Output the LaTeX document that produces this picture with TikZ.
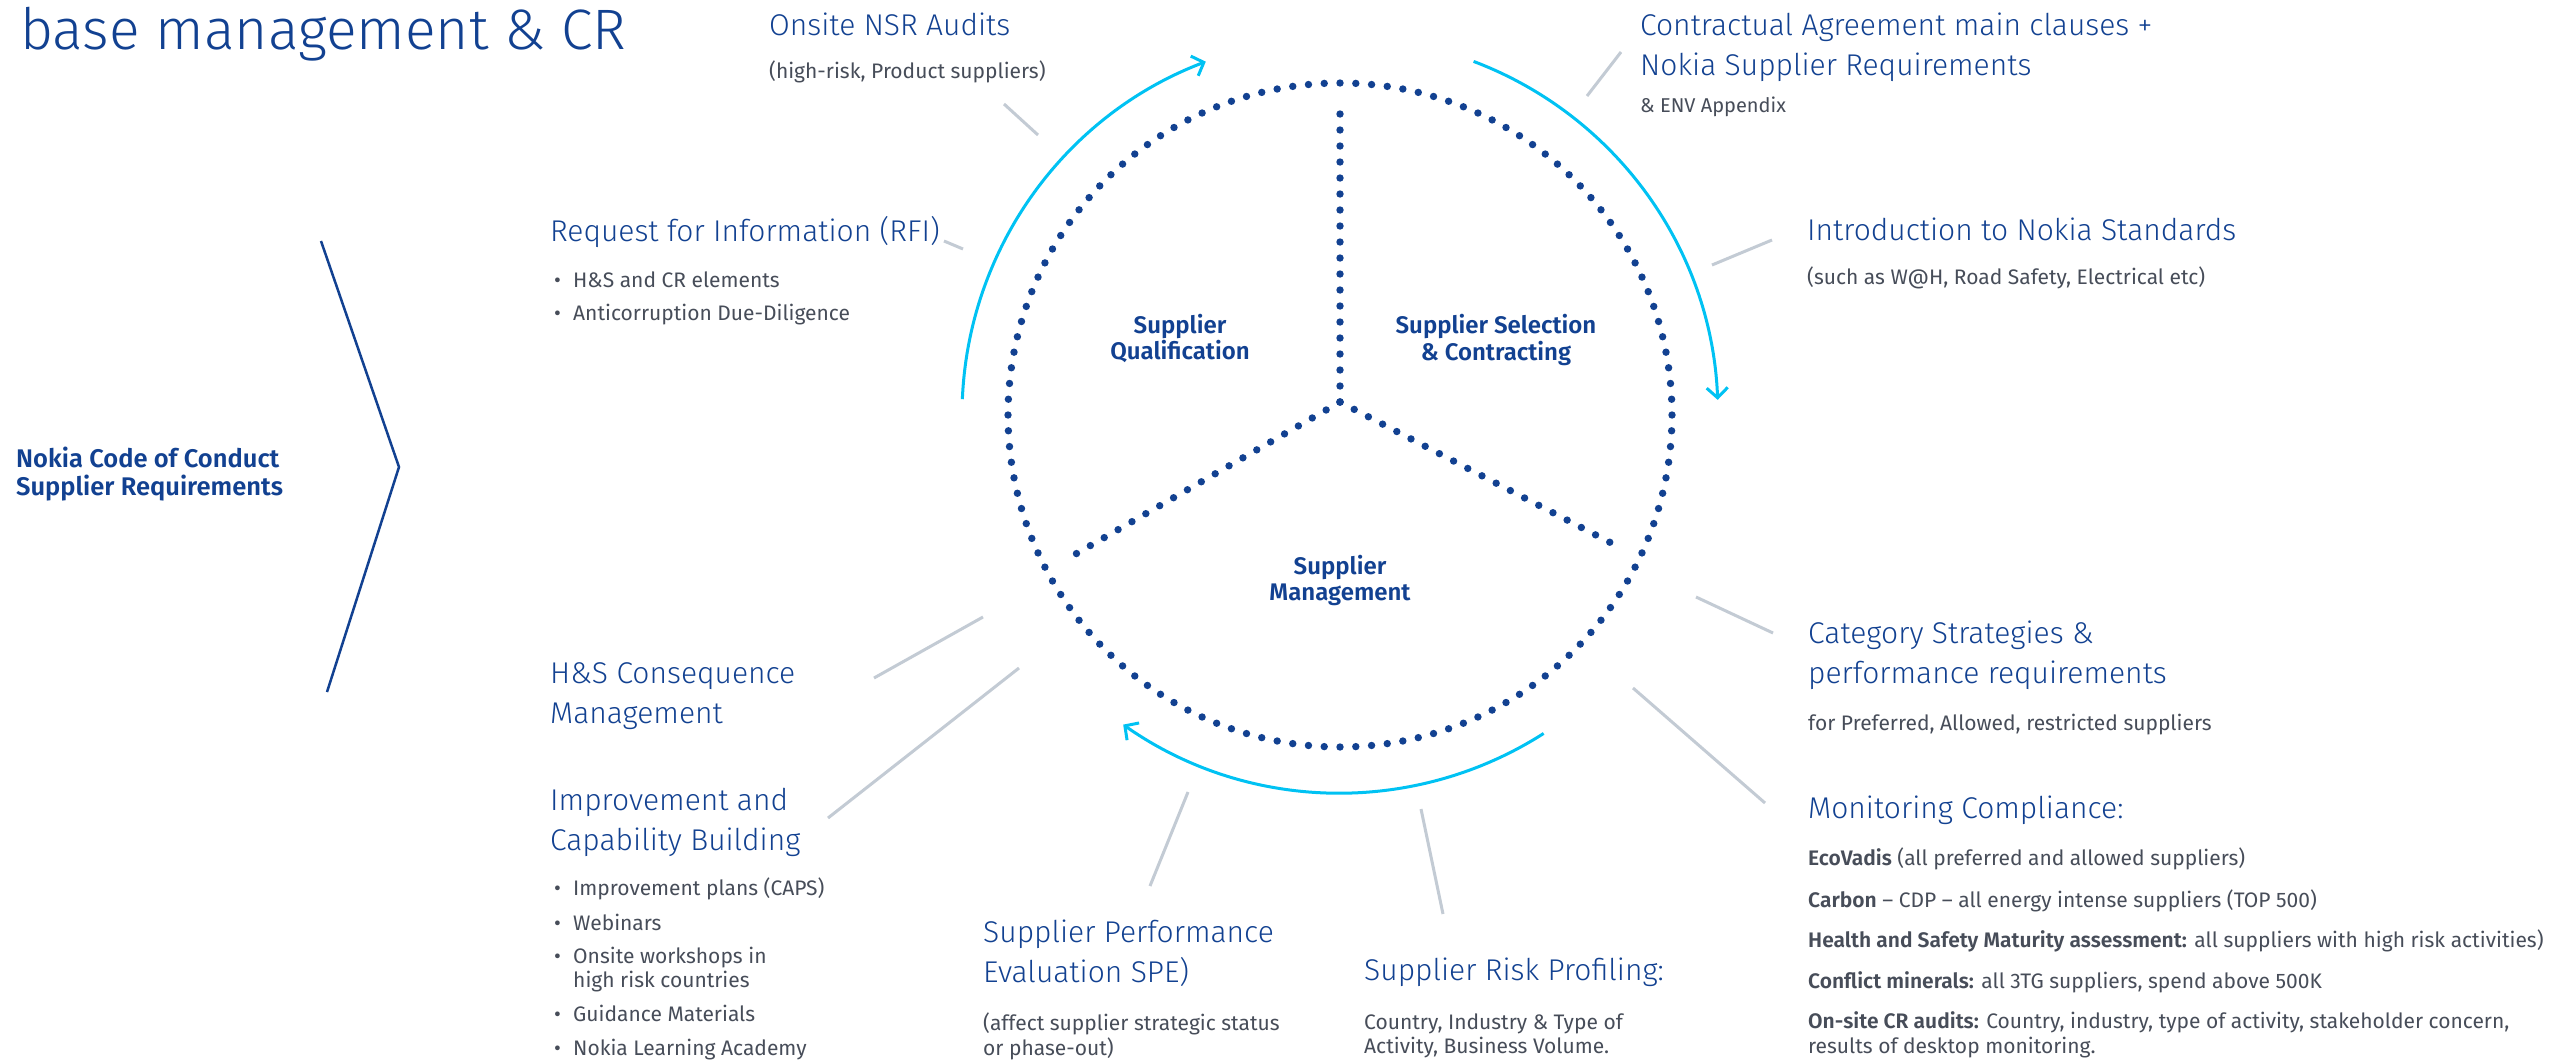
\documentclass[tikz,border=0pt]{standalone}
\usepackage{fontspec}
\usetikzlibrary{arrows.meta}
\setmainfont{Fira Sans}
\IfFontExistsTF{Fira Sans Light}{\newfontfamily\lightf{Fira Sans Light}}{\newfontfamily\lightf{Fira Sans}}
\IfFontExistsTF{Fira Sans SemiBold}{\newfontfamily\semibf{Fira Sans SemiBold}}{\newcommand\semibf{\bfseries}}
\definecolor{nblue}{HTML}{124191}
\definecolor{ncyan}{HTML}{00C2F3}
\definecolor{lgray}{HTML}{C3CBD4}
\definecolor{tgray}{HTML}{474D59}
\newcommand\bul{\makebox[19pt][l]{•}}
\tikzset{
  hd/.style={anchor=base west, inner sep=0pt, text=nblue, font=\lightf\fontsize{30}{36}\selectfont},
  sb/.style={anchor=base west, inner sep=0pt, text=tgray, font=\fontsize{21}{25}\selectfont},
  inl/.style={anchor=base, inner sep=0pt, text=nblue, font=\semibf\fontsize{24}{29}\selectfont},
  codeb/.style={anchor=base west, inner sep=0pt, text=nblue, font=\semibf\fontsize{25.5}{30}\selectfont},
  gline/.style={draw=lgray, line width=3pt},
  dotline/.style={draw=nblue, line width=7.4pt, line cap=round, dash pattern=on 0pt off 16pt},
  cyanarrow/.style={draw=ncyan, line width=3pt, -{Straight Barb[length=10pt,width=21pt]}}
}
\begin{document}
\begin{tikzpicture}[x=1pt,y=-1pt]
\fill[white] (0,0) rectangle (2570,1061);
\useasboundingbox (0,0) rectangle (2570,1061);

% title
\node[anchor=base west, inner sep=0pt, text=nblue, font=\lightf\fontsize{57}{68}\selectfont] (title) at (20,49) {base management \& CR};

% chevron and code of conduct
\coordinate (chtop) at (321,241);
\coordinate (chtip) at (399,467);
\coordinate (chbot) at (327,692);
\draw[nblue, line width=2.5pt, line join=miter] (chtop) -- (chtip) -- (chbot);
\node[codeb] (code1) at (16,467) {Nokia Code of Conduct};
\node[codeb] (code2) at (16,495) {Supplier Requirements};

% dotted circle
\coordinate (ctr) at (1340,415);
\foreach \i in {0,...,131}
  \fill[nblue] (ctr) ++({\i*2.727273}:332) circle[radius=3.7];

% dividers
\coordinate (J) at (1340,402);
\coordinate (Dtop) at (1340,100);
\coordinate (Dll) at (1067,559);
\coordinate (Dlr) at (1617,546);
\draw[dotline] (J) -- (Dtop);
\draw[dotline] (J) -- (Dll);
\draw[dotline] (J) -- (Dlr);

% cyan arrows
\draw[cyanarrow] (ctr) ++(-177.6:378) arc[start angle=-177.6, end angle=-110.8, radius=378];
\draw[cyanarrow] (ctr) ++(-69.3:378) arc[start angle=-69.3, end angle=-2.3, radius=378];
\draw[cyanarrow] (ctr) ++(57.4:378) arc[start angle=57.4, end angle=125, radius=378];

% inner labels
\node[inl] (q1) at (1180,333) {Supplier};
\node[inl] (q2) at (1180,359) {Qualification};
\node[inl] (s1) at (1496,333) {Supplier Selection};
\node[inl] (s2) at (1496,360) {\& Contracting};
\node[inl] (m1) at (1340,574) {Supplier};
\node[inl] (m2) at (1340,600) {Management};

% gray leader lines
\coordinate (nsrA) at (1004,104);  \coordinate (nsrB) at (1038,135);
\coordinate (rfiA) at (944,241);   \coordinate (rfiB) at (963,249);
\coordinate (conA) at (1621,52);   \coordinate (conB) at (1587,96);
\coordinate (intA) at (1772,240);  \coordinate (intB) at (1712,265);
\coordinate (catA) at (1696,597);  \coordinate (catB) at (1773,633);
\coordinate (monA) at (1633,688);  \coordinate (monB) at (1765,803);
\coordinate (riskA) at (1421,809); \coordinate (riskB) at (1443,914);
\coordinate (speA) at (1188,792);  \coordinate (speB) at (1150,886);
\coordinate (impA) at (1019,668);  \coordinate (impB) at (828,818);
\coordinate (hsA) at (983,617);    \coordinate (hsB) at (874,678);
\draw[gline] (nsrA) -- (nsrB);
\draw[gline] (rfiA) -- (rfiB);
\draw[gline] (conA) -- (conB);
\draw[gline] (intA) -- (intB);
\draw[gline] (catA) -- (catB);
\draw[gline] (monA) -- (monB);
\draw[gline] (riskA) -- (riskB);
\draw[gline] (speA) -- (speB);
\draw[gline] (impA) -- (impB);
\draw[gline] (hsA) -- (hsB);

% top texts
\node[hd] (nsr) at (769,35) {Onsite NSR Audits};
\node[sb] (nsrs) at (769,78) {(high-risk, Product suppliers)};
\node[hd] (con1) at (1640,35) {Contractual Agreement main clauses +};
\node[hd] (con2) at (1640,75) {Nokia Supplier Requirements};
\node[sb, font=\fontsize{20}{24}\selectfont] (cons) at (1640,112) {\& ENV Appendix};
\node[hd] (intro) at (1807,240) {Introduction to Nokia Standards};
\node[sb] (intros) at (1807,284) {(such as W@H, Road Safety, Electrical etc)};
\node[hd] (rfi) at (550,241) {Request for Information (RFI)};
\node[sb] (rfi1) at (554,287) {\bul H\&S and CR elements};
\node[sb] (rfi2) at (554,320) {\bul Anticorruption Due-Diligence};

% left lower texts
\node[hd] (hs1) at (550,683) {H\&S Consequence};
\node[hd] (hs2) at (550,723) {Management};
\node[hd] (imp1) at (550,810) {Improvement and};
\node[hd] (imp2) at (550,850) {Capability Building};
\node[sb] (imp3) at (554,895) {\bul Improvement plans (CAPS)};
\node[sb] (imp4) at (554,930) {\bul Webinars};
\node[sb] (imp5) at (554,963) {\bul Onsite workshops in};
\node[sb] (imp6) at (573,987) {high risk countries};
\node[sb] (imp7) at (554,1021) {\bul Guidance Materials};
\node[sb] (imp8) at (554,1055) {\bul Nokia Learning Academy};

% bottom texts
\node[hd] (spe1) at (983,942) {Supplier Performance};
\node[hd] (spe2) at (983,982) {Evaluation SPE)};
\node[sb] (spe3) at (983,1030) {(affect supplier strategic status};
\node[sb] (spe4) at (983,1055) {or phase-out)};
\node[hd] (risk1) at (1364,980) {Supplier Risk Profiling:};
\node[sb] (risk2) at (1364,1029) {Country, Industry \& Type of};
\node[sb] (risk3) at (1364,1053) {Activity, Business Volume.};

% right texts
\node[hd] (cat1) at (1808,643) {Category Strategies \&};
\node[hd] (cat2) at (1808,683) {performance requirements};
\node[sb] (cat3) at (1808,730) {for Preferred, Allowed, restricted suppliers};
\node[hd] (mon) at (1808,818) {Monitoring Compliance:};
\node[sb] (mon1) at (1808,865) {{\semibf EcoVadis} (all preferred and allowed suppliers)};
\node[sb] (mon2) at (1808,907) {{\semibf Carbon} – CDP – all energy intense suppliers (TOP 500)};
\node[sb] (mon3) at (1808,947) {{\semibf Health and Safety Maturity assessment:} all suppliers with high risk activities)};
\node[sb] (mon4) at (1808,988) {{\semibf Conflict minerals:} all 3TG suppliers, spend above 500K};
\node[sb] (mon5) at (1808,1028) {{\semibf On-site CR audits:} Country, industry, type of activity, stakeholder concern,};
\node[sb] (mon6) at (1808,1053) {results of desktop monitoring.};
\end{tikzpicture}
\end{document}
